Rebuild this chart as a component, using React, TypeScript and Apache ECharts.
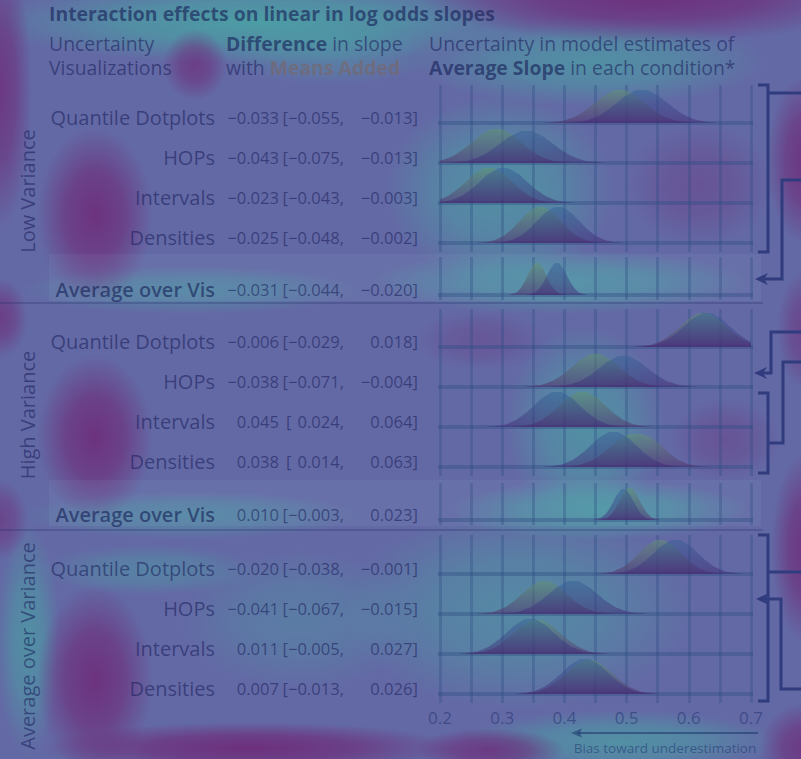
import React, { useEffect, useRef } from "react";
import * as echarts from "echarts";

// ---------------- data ----------------
const groupLabels = ["Low Variance", "High Variance", "Average over Variance"];
const visLabels = ["Quantile Dotplots", "HOPs", "Intervals", "Densities"];
const avgVisLabel = "Average over Vis";
const xTickLabels = [0.2, 0.3, 0.4, 0.5, 0.6, 0.7];

// Difference in slope with means added: [estimate, lower, upper]
const lowVarDiff = [[-0.033, -0.055, -0.013], [-0.043, -0.075, -0.013], [-0.023, -0.043, -0.003], [-0.025, -0.048, -0.002]];
const lowVarAvgDiff = [[-0.031, -0.044, -0.020]];
const highVarDiff = [[-0.006, -0.029, 0.018], [-0.038, -0.071, -0.004], [0.045, 0.024, 0.064], [0.038, 0.014, 0.063]];
const highVarAvgDiff = [[0.010, -0.003, 0.023]];
const avgVarDiff = [[-0.020, -0.038, -0.001], [-0.041, -0.067, -0.015], [0.011, -0.005, 0.027], [0.007, -0.013, 0.026]];

// Posterior densities of average slope: [first x, x step, heights]
type Curve = [number, number, number[]];
const lowVarMeansAdded: Curve[] = [
  [0.369, 0.02, [0.4, 1.5, 4.5, 10.7, 20.0, 29.1, 33, 29.1, 20.0, 10.7, 4.5, 1.5, 0.4]],
  [0.191, 0.02, [1.5, 4.6, 11.1, 20.6, 30.0, 34, 30.0, 20.6, 11.1, 4.6, 1.5, 0.4]],
  [0.186, 0.0185, [1.5, 4.7, 11.4, 21.2, 30.9, 35, 30.9, 21.2, 11.4, 4.7, 1.5, 0.4]],
  [0.262, 0.0165, [0.4, 1.6, 4.9, 11.7, 21.9, 31.8, 36, 31.8, 21.9, 11.7, 4.9, 1.6, 0.4]],
];
const lowVarNoMeans: Curve[] = [
  [0.404, 0.02, [0.4, 1.5, 4.5, 10.7, 20.0, 29.1, 33, 29.5, 21.0, 11.5, 5.0, 1.8, 0.5]],
  [0.213, 0.021, [0.4, 1.4, 4.3, 10.4, 19.4, 28.2, 32, 28.2, 19.4, 10.4, 4.3, 1.4, 0.4]],
  [0.188, 0.019, [0.4, 1.5, 4.7, 11.4, 21.2, 30.9, 35, 30.9, 21.2, 11.4, 4.7, 1.5, 0.4]],
  [0.288, 0.017, [0.4, 1.6, 4.9, 11.7, 21.9, 31.8, 36, 31.8, 21.9, 11.7, 4.9, 1.6, 0.4]],
];
const lowVarAvgMeansAdded: Curve[] = [
  [0.311, 0.0075, [0.4, 1.4, 4.3, 10.4, 19.4, 28.2, 32, 28.2, 19.4, 10.4, 4.3, 1.4, 0.4]],
];
const lowVarAvgNoMeans: Curve[] = [
  [0.340, 0.008, [0.4, 1.4, 4.3, 10.4, 19.4, 28.2, 32, 28.2, 19.4, 10.4, 4.3, 1.4, 0.4]],
];
const highVarMeansAdded: Curve[] = [
  [0.512, 0.0185, [0.4, 1.5, 4.6, 11.1, 20.6, 30.0, 34, 30.0, 20.6, 11.1, 4.6, 1.5, 0.4]],
  [0.336, 0.019, [0.4, 1.5, 4.5, 10.7, 20.0, 29.1, 33, 29.1, 20.0, 10.7, 4.5, 1.5, 0.4]],
  [0.318, 0.0185, [0.4, 1.5, 4.7, 11.4, 21.2, 30.9, 35, 30.9, 21.2, 11.4, 4.7, 1.5, 0.4]],
  [0.396, 0.0195, [0.4, 1.5, 4.5, 10.7, 20.0, 29.1, 33, 31.0, 23.0, 12.5, 5.0, 1.6, 0.4]],
];
const highVarNoMeans: Curve[] = [
  [0.518, 0.0185, [0.4, 1.5, 4.6, 11.1, 20.6, 30.0, 34, 30.0, 20.6, 11.1, 4.6, 1.5, 0.4]],
  [0.378, 0.0195, [0.3, 1.4, 4.2, 10.1, 18.8, 27.3, 31, 27.3, 18.8, 10.1, 4.2, 1.4, 0.3]],
  [0.277, 0.0185, [0.4, 1.5, 4.7, 11.4, 21.2, 30.9, 35, 30.9, 21.2, 11.4, 4.7, 1.5, 0.4]],
  [0.368, 0.0185, [0.4, 1.5, 4.7, 11.4, 21.2, 30.9, 35, 30.9, 21.2, 11.4, 4.7, 1.5, 0.4]],
];
const highVarAvgMeansAdded: Curve[] = [
  [0.457, 0.008, [0.4, 1.4, 4.3, 10.4, 19.4, 28.2, 32, 28.2, 19.4, 10.4, 4.3, 1.4, 0.4]],
];
const highVarAvgNoMeans: Curve[] = [
  [0.447, 0.008, [0.3, 1.4, 4.2, 10.1, 18.8, 27.3, 31, 27.3, 18.8, 10.1, 4.2, 1.4, 0.3]],
];
const avgVarMeansAdded: Curve[] = [
  [0.452, 0.017, [0.4, 1.5, 4.6, 11.1, 20.6, 30.0, 34, 30.0, 20.6, 11.1, 4.6, 1.5, 0.4]],
  [0.260, 0.018, [0.4, 1.5, 4.5, 10.7, 20.0, 29.1, 33, 29.1, 20.0, 10.7, 4.5, 1.5, 0.4]],
  [0.242, 0.019, [0.4, 1.5, 4.6, 11.1, 20.6, 30.0, 34, 30.0, 20.6, 11.1, 4.6, 1.5, 0.4]],
  [0.329, 0.0185, [0.4, 1.5, 4.6, 11.1, 20.6, 30.0, 34, 30.0, 20.6, 11.1, 4.6, 1.5, 0.4]],
];
const avgVarNoMeans: Curve[] = [
  [0.471, 0.018, [0.4, 1.5, 4.6, 11.1, 20.6, 30.0, 34, 30.0, 20.6, 11.1, 4.6, 1.5, 0.4]],
  [0.297, 0.0195, [0.4, 1.5, 4.5, 10.7, 20.0, 29.1, 33, 29.1, 20.0, 10.7, 4.5, 1.5, 0.4]],
  [0.231, 0.019, [0.4, 1.5, 4.7, 11.4, 21.2, 30.9, 35, 30.9, 21.2, 11.4, 4.7, 1.5, 0.4]],
  [0.322, 0.0185, [0.4, 1.5, 4.7, 11.4, 21.2, 30.9, 35, 30.9, 21.2, 11.4, 4.7, 1.5, 0.4]],
];

// ---------------- layout / style ----------------
const FONT = "'Open Sans', 'Noto Sans', sans-serif";
const TXT = "rgba(26,30,92,0.58)";
const TXT_STRONG = "rgba(22,30,86,0.62)";
const MEANS_COLOR = "rgba(125,100,95,0.55)";
const GRID_LINE = "rgba(45,75,130,0.32)";
const BASE_LINE = "rgba(45,75,130,0.38)";
const LINE_DARK = "#303c7e";
const LABEL_SIZE = 20;
const NUM_SIZE = 16.6;
const HEAD_SIZE = 19.4;
const HEAD_LH = 23.5;

const panels = [
  { top: 85, height: 167, labels: visLabels, diffs: lowVarDiff, ma: lowVarMeansAdded, nm: lowVarNoMeans, avg: false },
  { top: 257, height: 43, labels: [avgVisLabel], diffs: lowVarAvgDiff, ma: lowVarAvgMeansAdded, nm: lowVarAvgNoMeans, avg: true },
  { top: 309, height: 167, labels: visLabels, diffs: highVarDiff, ma: highVarMeansAdded, nm: highVarNoMeans, avg: false },
  { top: 483, height: 42, labels: [avgVisLabel], diffs: highVarAvgDiff, ma: highVarAvgMeansAdded, nm: highVarAvgNoMeans, avg: true },
  { top: 535, height: 168, labels: visLabels, diffs: avgVarDiff, ma: avgVarMeansAdded, nm: avgVarNoMeans, avg: false },
];
const groupLabelPos = [191, 415, 646];

const PURPLE = "110,44,122";
const TEAL = "70,170,164";
// heat-map like tint blobs: cx, cy, rx, ry, colour, strength
const blobs: [number, number, number, number, string, number][] = [
  [260, 22, 270, 42, TEAL, 0.8],
  [590, 62, 175, 45, TEAL, 0.6],
  [330, 55, 110, 30, TEAL, 0.35],
  [500, 190, 115, 95, TEAL, 0.6],
  [560, 282, 190, 32, TEAL, 0.6],
  [190, 290, 170, 24, TEAL, 0.45],
  [585, 425, 80, 100, TEAL, 0.6],
  [600, 510, 150, 30, TEAL, 0.65],
  [190, 515, 170, 24, TEAL, 0.45],
  [520, 610, 175, 100, TEAL, 0.5],
  [300, 620, 120, 70, TEAL, 0.3],
  [28, 640, 32, 115, TEAL, 0.6],
  [150, 570, 110, 25, TEAL, 0.4],
  [620, 742, 160, 32, TEAL, 0.6],
  [650, -5, 230, 48, PURPLE, 0.95],
  [0, 90, 32, 140, PURPLE, 0.8],
  [195, 65, 32, 36, PURPLE, 0.7],
  [95, 215, 58, 88, PURPLE, 0.9],
  [95, 437, 58, 82, PURPLE, 0.9],
  [95, 680, 58, 95, PURPLE, 0.9],
  [250, 748, 210, 26, PURPLE, 0.95],
  [490, 750, 75, 22, PURPLE, 0.8],
  [805, 160, 38, 85, PURPLE, 0.85],
  [805, 330, 28, 60, PURPLE, 0.6],
  [805, 548, 34, 95, PURPLE, 0.85],
  [805, 748, 45, 45, PURPLE, 0.8],
  [700, 185, 75, 62, PURPLE, 0.35],
  [0, 318, 28, 40, PURPLE, 0.7],
  [0, 520, 28, 40, PURPLE, 0.6],
  [725, 440, 55, 42, PURPLE, 0.35],
  [480, 340, 65, 30, PURPLE, 0.3],
];

const fmt = (v: number) => (v < 0 ? "\u2212" : "") + Math.abs(v).toFixed(3);

function rowBase(p: { avg: boolean }, r: number, n: number) {
  return p.avg ? 5 : 9 + 40 * (n - 1 - r);
}

function areaColor(top: string, bottom: string) {
  return {
    type: "linear", x: 0, y: 0, x2: 0, y2: 1,
    colorStops: [{ offset: 0, color: top }, { offset: 1, color: bottom }],
  };
}

function buildOption() {
  const grid: any[] = [];
  const xAxis: any[] = [];
  const yAxis: any[] = [];
  const series: any[] = [];
  const graphics: any[] = [];

  blobs.forEach(([cx, cy, rx, ry, c, a]) => {
    graphics.push({
      type: "circle", silent: true, z: -10,
      x: cx, y: cy, scaleX: rx / 100, scaleY: ry / 100,
      shape: { cx: 0, cy: 0, r: 100 },
      style: {
        fill: {
          type: "radial", x: 0.5, y: 0.5, r: 0.5,
          colorStops: [
            { offset: 0, color: `rgba(${c},${a})` },
            { offset: 0.5, color: `rgba(${c},${a * 0.7})` },
            { offset: 1, color: `rgba(${c},0)` },
          ],
        },
      },
    });
  });

  panels.forEach((p, i) => {
    grid.push({ left: 440, width: 311, top: p.top, height: p.height });
    xAxis.push({
      type: "value", gridIndex: i, min: 0.2, max: 0.7, interval: 0.05,
      axisLine: { show: false }, axisTick: { show: false },
      splitLine: { show: true, lineStyle: { color: GRID_LINE, width: 3 } },
      axisLabel: i === panels.length - 1
        ? {
            show: true, margin: 6, fontSize: 17, fontFamily: FONT, color: "rgba(30,50,110,0.55)",
            showMinLabel: true, showMaxLabel: true,
            formatter: (v: number) => {
              const t = xTickLabels.find((x) => Math.abs(x - v) < 1e-6);
              return t === undefined ? "" : t.toFixed(1);
            },
          }
        : { show: false },
    });
    yAxis.push({ type: "value", gridIndex: i, min: 0, max: p.height, show: false });

    const n = p.labels.length;
    if (p.avg) {
      graphics.push({
        type: "rect", silent: true, z: -5,
        shape: { x: 49, y: p.top - 3, width: 712, height: p.height + 4 },
        style: { fill: "rgba(200,255,250,0.05)" },
      });
    }
    for (let r = 0; r < n; r++) {
      const base = rowBase(p, r, n);
      series.push({
        type: "line", xAxisIndex: i, yAxisIndex: i, clip: false, silent: true, z: 1,
        symbol: "none", data: [[0.187, base], [0.711, base]],
        lineStyle: { color: BASE_LINE, width: 4 },
      });
      const curves: [Curve, any][] = [
        [p.ma[r], areaColor("rgba(98,148,112,0.52)", "rgba(80,45,110,0.55)")],
        [p.nm[r], areaColor("rgba(50,95,150,0.45)", "rgba(65,40,115,0.5)")],
      ];
      curves.forEach(([c, col]) => {
        const [x0, step, hs] = c;
        series.push({
          type: "line", xAxisIndex: i, yAxisIndex: i, clip: false, silent: true, z: 2,
          symbol: "none", smooth: 0.6,
          data: hs.map((h, k) => [x0 + k * step, base + h]),
          lineStyle: { width: 0, opacity: 0 },
          areaStyle: { origin: base, color: col, opacity: 1 },
        });
      });

      // labels + numbers
      const y = p.top + p.height - base - 6;
      graphics.push({
        type: "text", z: 50, x: 215, y,
        style: {
          text: p.labels[r], textAlign: "right", textVerticalAlign: "middle",
          fontFamily: FONT, fontSize: LABEL_SIZE, fontWeight: p.avg ? 600 : "normal",
          fill: p.avg ? TXT_STRONG : TXT,
        },
      });
      const d = p.diffs[r];
      const numStyle = { textVerticalAlign: "middle", fontFamily: FONT, fontSize: NUM_SIZE, fill: TXT };
      graphics.push({ type: "text", z: 50, x: 279, y, style: { ...numStyle, text: fmt(d[0]), textAlign: "right" } });
      if (d[1] < 0) {
        graphics.push({ type: "text", z: 50, x: 344, y, style: { ...numStyle, text: "[" + fmt(d[1]) + ",", textAlign: "right" } });
      } else {
        graphics.push({ type: "text", z: 50, x: 286, y, style: { ...numStyle, text: "[", textAlign: "left" } });
        graphics.push({ type: "text", z: 50, x: 344, y, style: { ...numStyle, text: fmt(d[1]) + ",", textAlign: "right" } });
      }
      graphics.push({ type: "text", z: 50, x: 418, y, style: { ...numStyle, text: fmt(d[2]) + "]", textAlign: "right" } });
    }
  });

  // separators between variance groups
  [303, 530].forEach((y) => {
    graphics.push({ type: "line", silent: true, z: 5, shape: { x1: 0, y1: y, x2: 763, y2: y }, style: { stroke: "rgba(40,50,110,0.3)", lineWidth: 2 } });
  });

  // group labels
  groupLabels.forEach((g, k) => {
    graphics.push({
      type: "text", z: 50, x: 27, y: groupLabelPos[k], rotation: Math.PI / 2,
      style: { text: g, textAlign: "center", textVerticalAlign: "middle", fontFamily: FONT, fontSize: LABEL_SIZE, fill: TXT },
    });
  });

  // headers (two-line blocks)
  const H = HEAD_SIZE;
  const bold = (fill: string) => ({ fontFamily: FONT, fontSize: H, lineHeight: HEAD_LH, fontWeight: "bold", fill });
  const plain = { fontFamily: FONT, fontSize: H, lineHeight: HEAD_LH, fill: TXT };
  const head = (x: number, text: string) => ({
    type: "text", z: 50, x, y: 55.5,
    style: {
      text, textVerticalAlign: "middle", fontFamily: FONT, fontSize: H, lineHeight: HEAD_LH, fill: TXT,
      rich: { p: plain, b: bold(TXT_STRONG), m: bold(MEANS_COLOR) },
    },
  });
  graphics.push({ type: "text", z: 50, x: 49, y: 13, style: { text: "Interaction effects on linear in log odds slopes", textVerticalAlign: "middle", fontFamily: FONT, fontSize: 19.4, lineHeight: 20, fontWeight: "bold", fill: TXT_STRONG } });
  graphics.push(head(49, "{p|Uncertainty}\n{p|Visualizations}"));
  graphics.push(head(226, "{b|Difference}{p| in slope}\n{p|with }{m|Means Added}"));
  graphics.push(head(429, "{p|Uncertainty in model estimates of}\n{b|Average Slope}{p| in each condition*}"));

  // bias arrow
  graphics.push({ type: "line", z: 50, silent: true, shape: { x1: 758, y1: 733, x2: 578, y2: 733 }, style: { stroke: "rgba(30,60,110,0.6)", lineWidth: 2 } });
  graphics.push({ type: "polygon", z: 50, silent: true, shape: { points: [[571, 733], [582, 728.5], [580, 733], [582, 737.5]] }, style: { fill: "rgba(30,60,110,0.6)" } });
  graphics.push({ type: "text", z: 50, x: 665, y: 748, style: { text: "Bias toward underestimation", textAlign: "center", textVerticalAlign: "middle", fontFamily: FONT, fontSize: 13.5, fill: "rgba(30,50,110,0.55)" } });

  // comparison brackets and arrows on the right
  const stroke = { stroke: LINE_DARK, lineWidth: 3, fill: null, lineJoin: "miter" };
  const polys = [
    [[758, 85], [768, 85], [768, 252], [758, 252]],
    [[768, 93], [801, 93]],
    [[801, 180], [782, 180], [782, 279], [762, 279]],
    [[801, 332], [771, 332], [771, 373], [761, 373]],
    [[758, 393], [768, 393], [768, 473], [758, 473]],
    [[801, 362], [783, 362], [783, 443], [768, 443]],
    [[758, 535], [768, 535], [768, 701], [758, 701]],
    [[768, 572], [801, 572]],
    [[801, 689], [781, 689], [781, 599], [763, 599]],
  ];
  polys.forEach((pts) => graphics.push({ type: "polyline", z: 50, silent: true, shape: { points: pts }, style: stroke }));
  [[755, 279], [754, 373], [756, 599]].forEach(([ax, ay]) => {
    graphics.push({
      type: "polygon", z: 50, silent: true,
      shape: { points: [[ax, ay], [ax + 13, ay - 6], [ax + 9, ay], [ax + 13, ay + 6]] },
      style: { fill: LINE_DARK },
    });
  });

  return {
    animation: false,
    backgroundColor: "#6369a5",
    grid, xAxis, yAxis, series,
    graphic: { elements: graphics },
  };
}

export default function App() {
  const ref = useRef<HTMLDivElement>(null);
  useEffect(() => {
    const chart = echarts.init(ref.current!, null, { renderer: "svg" });
    chart.setOption(buildOption() as any);
    return () => chart.dispose();
  }, []);
  return <div ref={ref} style={{ position: "fixed", left: 0, top: 0, width: 801, height: 759 }} />;
}
